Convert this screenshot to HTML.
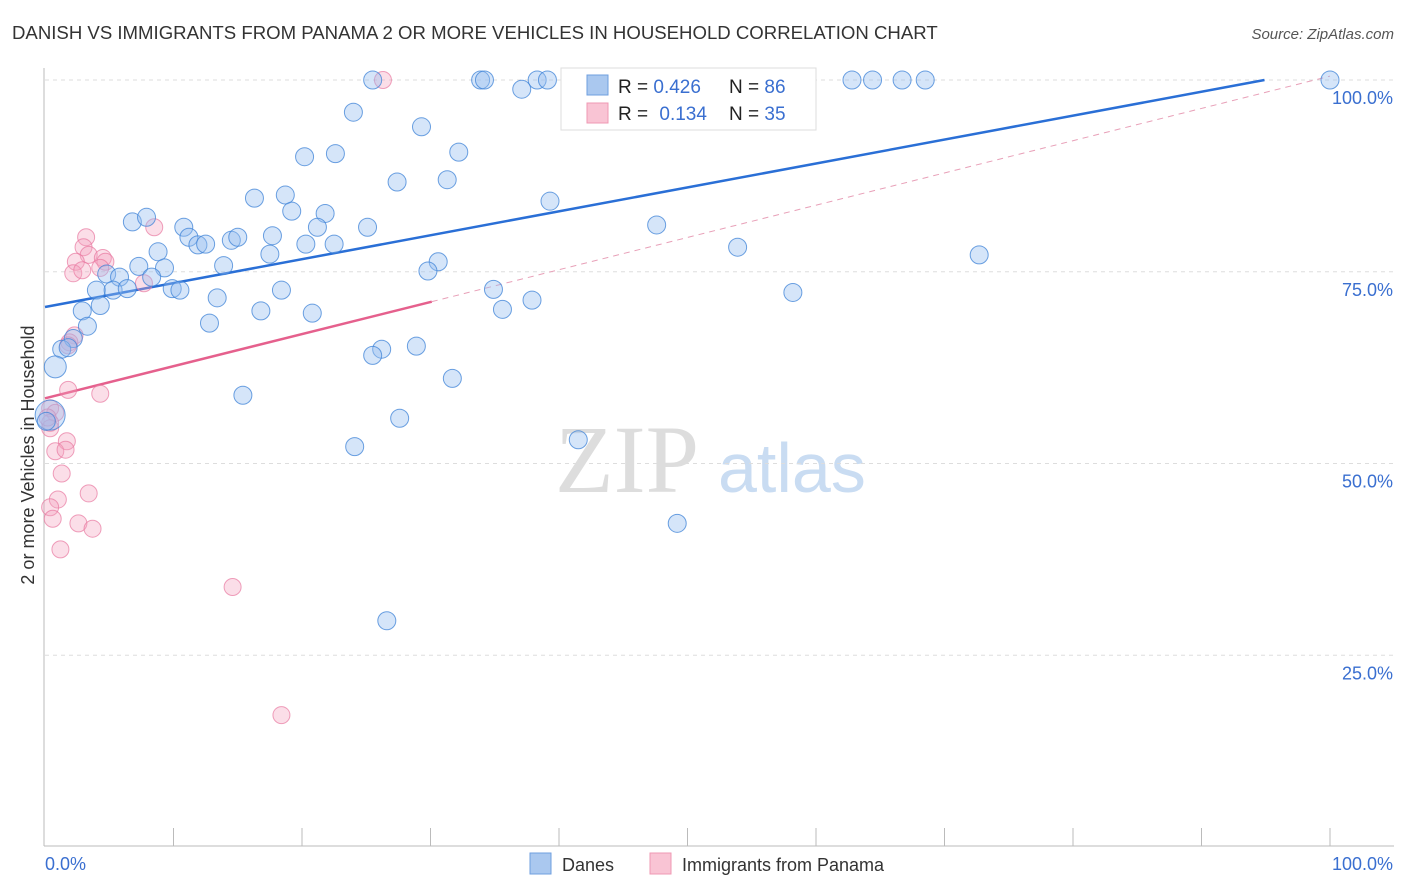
<!DOCTYPE html>
<html><head><meta charset="utf-8">
<style>
body{margin:0;background:#fff;font-family:"Liberation Sans",sans-serif;}
#wrap{position:relative;width:1406px;height:892px;overflow:hidden;}
</style></head>
<body>
<div id="wrap">
<svg id="chart" width="1406" height="892" xmlns="http://www.w3.org/2000/svg">
<text x="12" y="39" font-size="18.6" fill="#333">DANISH VS IMMIGRANTS FROM PANAMA 2 OR MORE VEHICLES IN HOUSEHOLD CORRELATION CHART</text>
<text x="1394" y="39" font-size="15" fill="#555" font-style="italic" text-anchor="end">Source: ZipAtlas.com</text>
<text x="555" y="492" font-size="96" fill="#ddd" font-family="Liberation Serif,serif">ZIP</text>
<text x="718" y="492" font-size="70" fill="#c9dcf2">atlas</text>
<text transform="translate(34,455) rotate(-90)" font-size="18" fill="#333" text-anchor="middle">2 or more Vehicles in Household</text>
<g id="grid"></g><g id="axes"></g><g id="trend"></g><g id="pts"></g>
<g>
<rect x="561" y="68" width="255" height="62" fill="#fff" stroke="#ddd"/>
<rect x="587" y="75" width="21" height="20" fill="#aac8ef" stroke="#6f9fdf"/>
<rect x="587" y="103" width="21" height="20" fill="#f9c4d4" stroke="#ef98b3"/>
<text x="618" y="93" font-size="19" fill="#222">R = <tspan fill="#3a6fd0">0.426</tspan></text>
<text x="729" y="93" font-size="19" fill="#222">N = <tspan fill="#3a6fd0">86</tspan></text>
<text x="618" y="120" font-size="19" fill="#222">R = <tspan fill="#3a6fd0" dx="6">0.134</tspan></text>
<text x="729" y="120" font-size="19" fill="#222">N = <tspan fill="#3a6fd0">35</tspan></text>
</g>
<g>
<rect x="530" y="853" width="21" height="21" fill="#aac8ef" stroke="#6f9fdf"/>
<text x="562" y="871" font-size="18" fill="#333">Danes</text>
<rect x="650" y="853" width="21" height="21" fill="#f9c4d4" stroke="#ef98b3"/>
<text x="682" y="871" font-size="18" fill="#333">Immigrants from Panama</text>
</g>
</svg>
</div>
<script>
const yTicks=[25,50,75,100];
const yTickLabels=["25.0%","50.0%","75.0%","100.0%"];
const danesX=[25.5,33.9,34.2,38.3,39.1,52.1,62.8,64.4,66.7,68.5,100,37.1,24,29.3,32.2,20.2,22.6,27.4,31.3,39.3,18.7,16.3,19.2,21.8,6.8,7.9,10.8,25.1,21.2,47.6,11.2,11.9,12.5,14.5,15,17.7,20.3,22.5,53.9,8.8,17.5,72.7,7.3,9.3,13.9,4.8,5.8,8.3,30.6,29.8,4,5.3,6.4,9.9,10.5,18.4,34.9,58.2,13.4,4.3,16.8,37.9,2.9,35.6,20.8,12.8,3.3,2.2,1.3,1.8,28.9,26.2,25.5,0.8,31.7,15.4,27.6,0.4,41.5,24.1,49.2,26.6,0.1];
const danesY=[100,100,100,100,100,100,100,100,100,100,100,98.8,95.8,93.9,90.6,90.0,90.4,86.7,87.0,84.2,85.0,84.6,82.9,82.6,81.5,82.1,80.8,80.8,80.8,81.1,79.5,78.5,78.6,79.1,79.5,79.7,78.6,78.6,78.2,77.6,77.3,77.2,75.7,75.5,75.8,74.7,74.3,74.3,76.3,75.1,72.6,72.6,72.8,72.8,72.6,72.6,72.7,72.3,71.6,70.6,69.9,71.3,69.9,70.1,69.6,68.3,67.9,66.3,64.9,65.1,65.3,64.9,64.1,62.6,61.1,58.9,55.9,56.3,53.1,52.2,42.2,29.5,55.5];
const danesR=[9,9,9,9,9,9,9,9,9,9,9,9,9,9,9,9,9,9,9,9,9,9,9,9,9,9,9,9,9,9,9,9,9,9,9,9,9,9,9,9,9,9,9,9,9,9,9,9,9,9,9,9,9,9,9,9,9,9,9,9,9,9,9,9,9,9,9,9,9,9,9,9,9,11,9,9,9,15,9,9,9,9,9];
const panX=[26.3,3.2,8.5,3,3.4,4.5,2.4,4.7,2.2,2.9,4.3,7.7,2.3,1.9,1.8,1.8,4.3,0.4,0.8,0.4,0.4,1.7,0.8,1.6,1.3,1,3.4,0.4,0.6,2.6,3.7,1.2,14.6,18.4,0.2];
const panY=[100,79.5,80.8,78.2,77.2,76.8,76.3,76.3,74.8,75.2,75.5,73.5,66.7,65.8,65.4,59.6,59.1,57.2,56.6,55.3,54.6,52.9,51.6,51.8,48.7,45.3,46.1,44.3,42.8,42.2,41.5,38.8,33.9,17.2,56];
const blueTrend=[0,70.4,94.9,100];
const pinkTrend=[0,58.5,30.1,71.1,100,100.5];
const NS="http://www.w3.org/2000/svg";
function xs(v){return 45+v*12.85;}
function ys(v){return 847-v*7.67;}
function mk(tag,attrs,parent){const e=document.createElementNS(NS,tag);for(const k in attrs)e.setAttribute(k,attrs[k]);parent.appendChild(e);return e;}
const grid=document.getElementById('grid'),axes=document.getElementById('axes'),trend=document.getElementById('trend'),pts=document.getElementById('pts');
yTicks.forEach((t,i)=>{
 const l=mk('line',{x1:45,x2:1394,y1:ys(t),y2:ys(t),stroke:'#ddd','stroke-dasharray':'4,4'},grid);
 
 
 const tx=mk('text',{x:1393,y:ys(t)+24,'font-size':18,fill:'#3a6fd0','text-anchor':'end'},axes);
 tx.textContent=yTickLabels[i];
 
 
});
let a=mk('line',{x1:44,x2:44,y1:68,y2:846,stroke:'#bbb'},axes);


a=mk('line',{x1:44,x2:1394,y1:846,y2:846,stroke:'#bbb'},axes);


for(let i=0;i<=10;i++){const v=i*10;const tk=mk('line',{x1:xs(v)+(i==0?-1:0),x2:xs(v)+(i==0?-1:0),y1:828,y2:846,stroke:'#bbb'},axes);
 
 }
let xl=mk('text',{x:45,y:870,'font-size':18,fill:'#3a6fd0'},axes);xl.textContent='0.0%';


xl=mk('text',{x:1393,y:870,'font-size':18,fill:'#3a6fd0','text-anchor':'end'},axes);xl.textContent='100.0%';


let tl=mk('line',{x1:xs(blueTrend[0]),y1:ys(blueTrend[1]),x2:xs(blueTrend[2]),y2:ys(blueTrend[3]),stroke:'#2a6fd6','stroke-width':2.5},trend);


tl=mk('line',{x1:xs(pinkTrend[0]),y1:ys(pinkTrend[1]),x2:xs(pinkTrend[2]),y2:ys(pinkTrend[3]),stroke:'#e5608d','stroke-width':2.5},trend);


tl=mk('line',{x1:xs(pinkTrend[2]),y1:ys(pinkTrend[3]),x2:xs(pinkTrend[4]),y2:ys(pinkTrend[5]),stroke:'#e8a0b8','stroke-width':1,'stroke-dasharray':'6,5'},trend);


panX.forEach((x,i)=>{const c=mk('circle',{cx:xs(x),cy:ys(panY[i]),r:8.5,fill:'rgba(244,160,188,0.35)',stroke:'rgba(232,120,160,0.7)','stroke-width':1},pts);
 
 });
danesX.forEach((x,i)=>{const r=danesR[i]||9;const c=mk('circle',{cx:xs(x),cy:ys(danesY[i]),r:r,fill:'rgba(150,190,240,0.4)',stroke:'rgba(60,130,215,0.75)','stroke-width':1},pts);
 
 });
</script>
</body></html>
